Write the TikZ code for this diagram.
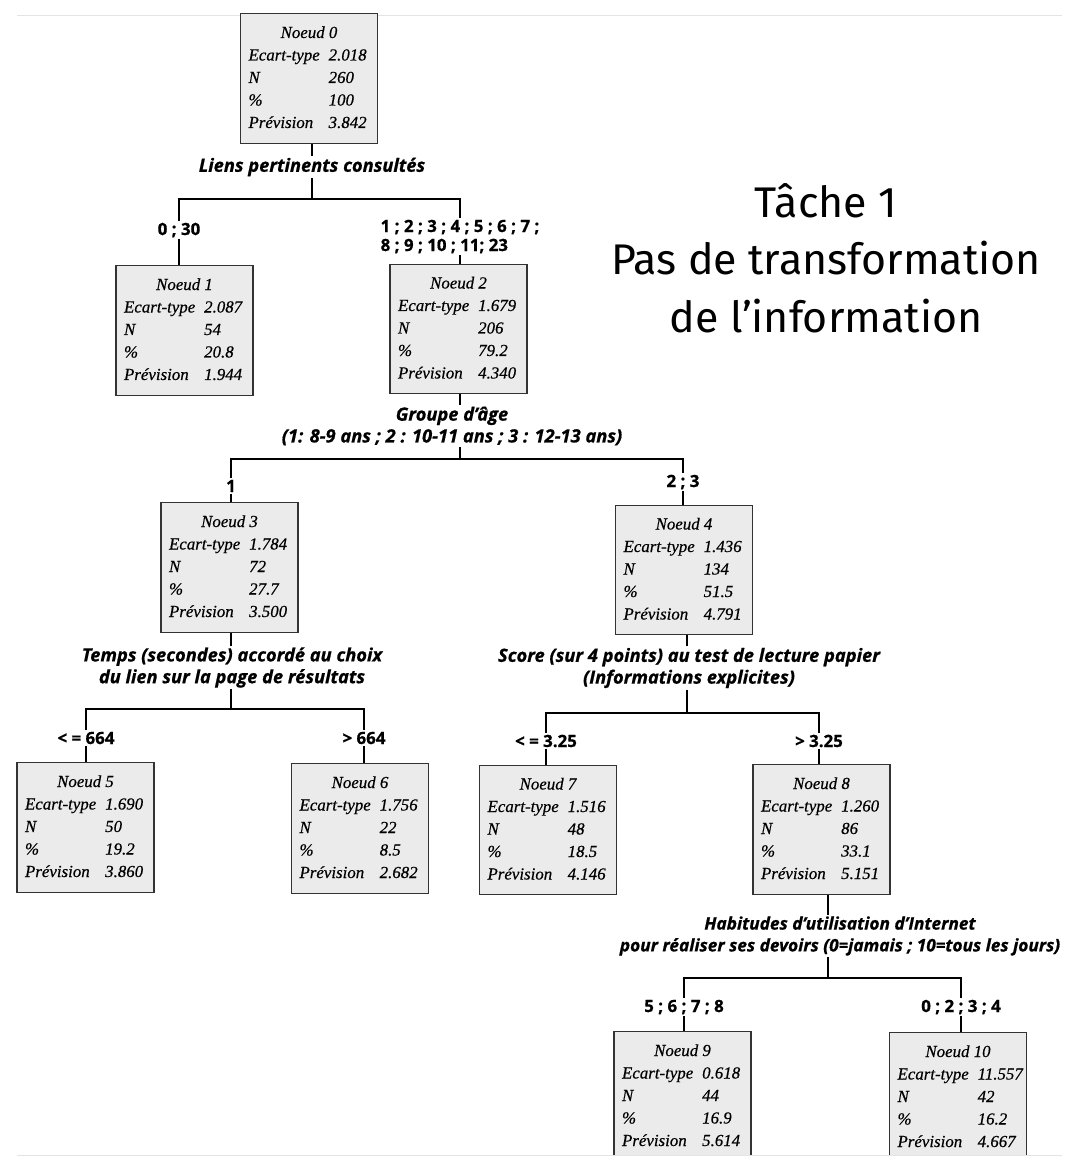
\documentclass[tikz,border=0pt]{standalone}
\usepackage{fontspec}
\usepackage{array}
\usetikzlibrary{positioning,calc}
\newfontfamily\labelfont[BoldFeatures={FakeBold=0.8}, BoldItalicFeatures={FakeBold=0.8}]{Open Sans}
\newfontfamily\titlefont{Fira Sans}
\newfontfamily\boxfont[ItalicFeatures={FakeBold=0.5}]{Liberation Serif}
\definecolor{boxgray}{RGB}{235,235,235}
\definecolor{pagegray}{RGB}{228,228,228}

\newcommand{\stats}[5]{%
  \begin{tabular}{@{}p{57pt}@{}p{29pt}@{}}
    \multicolumn{2}{@{}c@{}}{Noeud #1}\\
    Ecart-type & #2\\
    N & #3\\
    \% & #4\\
    Prévision & #5
  \end{tabular}}

\begin{document}
\begin{tikzpicture}[x=0.025cm, y=-0.025cm,
    noeud/.style={draw=black!80, line width=0.9pt, fill=boxgray, inner xsep=5.7pt, inner ysep=0pt,
      minimum width=97.5pt, minimum height=92pt, font=\boxfont\fontsize{12}{16}\selectfont\itshape},
    split/.style={inner sep=1pt, align=center, font=\labelfont\fontsize{13}{15.5}\selectfont\bfseries\itshape},
    branche/.style={inner sep=1pt, align=left, font=\labelfont\fontsize{12}{13.5}\selectfont\bfseries},
    link/.style={line width=2pt}]
  \useasboundingbox (0,0) rectangle (1069,1168);
  \begin{scope}
    \clip (0,0) rectangle (1069,1154);
    \draw[pagegray, line width=0.6pt] (17,15) -- (1062,15);

    % titre
    \node[font=\titlefont\fontsize{30.5}{41}\selectfont, align=center] (titre) at (826,258)
      {Tâche 1\\Pas de transformation\\de l’information};

    % noeuds
    \node[noeud] (n0) at (309,78.5) {\stats{0}{2.018}{260}{100}{3.842}};
    \node[noeud] (n1) at (184.5,330.5) {\stats{1}{2.087}{54}{20.8}{1.944}};
    \node[noeud] (n2) at (458.5,329) {\stats{2}{1.679}{206}{79.2}{4.340}};
    \node[noeud] (n3) at (229.5,567.5) {\stats{3}{1.784}{72}{27.7}{3.500}};
    \node[noeud] (n4) at (684,570) {\stats{4}{1.436}{134}{51.5}{4.791}};
    \node[noeud] (n5) at (85.5,827.5) {\stats{5}{1.690}{50}{19.2}{3.860}};
    \node[noeud] (n6) at (360,828.5) {\stats{6}{1.756}{22}{8.5}{2.682}};
    \node[noeud] (n7) at (548,830) {\stats{7}{1.516}{48}{18.5}{4.146}};
    \node[noeud] (n8) at (821.5,829.5) {\stats{8}{1.260}{86}{33.1}{5.151}};
    \node[noeud] (n9) at (682.5,1096.5) {\stats{9}{0.618}{44}{16.9}{5.614}};
    \node[noeud] (n10) at (958,1097.5) {\stats{10}{11.557}{42}{16.2}{4.667}};

    % variables de division
    \node[split] (s0) at (312,167) {Liens pertinents consultés};
    \node[split] (s1) at (452,426) {Groupe d’âge\\(1: 8-9 ans ; 2 : 10-11 ans ; 3 : 12-13 ans)};
    \node[split] (s3) at (232,667.5) {Temps (secondes) accordé au choix\\du lien sur la page de résultats};
    \node[split] (s4) at (689,668) {Score (sur 4 points) au test de lecture papier\\(Informations explicites)};
    \node[split, font=\labelfont\fontsize{12.3}{15.5}\selectfont\bfseries\itshape] (s8) at (840,936)
      {Habitudes d’utilisation d’Internet\\pour réaliser ses devoirs (0=jamais ; 10=tous les jours)};

    % modalites
    \node[branche] (b1) at (179,230) {0 ; 30};
    \node[branche] (b2) at (460,236.5) {1 ; 2 ; 3 ; 4 ; 5 ; 6 ; 7 ;\\8 ; 9 ; 10 ; 11; 23};
    \node[branche] (b3) at (231,486) {1};
    \node[branche] (b4) at (683,482) {2 ; 3};
    \node[branche] (b5) at (86,738) {< = 664};
    \node[branche] (b6) at (364,738) {> 664};
    \node[branche] (b7) at (546,741) {< = 3.25};
    \node[branche] (b8) at (819,741) {> 3.25};
    \node[branche] (b9) at (684,1007) {5 ; 6 ; 7 ; 8};
    \node[branche] (b10) at (961,1007) {0 ; 2 ; 3 ; 4};

    \coordinate (j0) at (312,199);
    \coordinate (j1) at (460,459);
    \coordinate (j3) at (231,709);
    \coordinate (j4) at (687,713);
    \coordinate (j8) at (828,978);

    % liens
    \draw[link] (n0.south -| j0) -- (s0.north -| j0);
    \draw[link] (s0.south -| j0) -- (j0);
    \draw[link] (b1.north) |- (j0) -| (b2.north);
    \draw[link] (b1.south) -- (b1.south |- n1.north);
    \draw[link] (b2.south) -- (b2.south |- n2.north);

    \draw[link] (n2.south -| j1) -- (s1.north -| j1);
    \draw[link] (s1.south -| j1) -- (j1);
    \draw[link] (b3.north) |- (j1) -| (b4.north);
    \draw[link] (b3.south) -- (b3.south |- n3.north);
    \draw[link] (b4.south) -- (b4.south |- n4.north);

    \draw[link] (n3.south -| j3) -- (s3.north -| j3);
    \draw[link] (s3.south -| j3) -- (j3);
    \draw[link] (b5.north) |- (j3) -| (b6.north);
    \draw[link] (b5.south) -- (b5.south |- n5.north);
    \draw[link] (b6.south) -- (b6.south |- n6.north);

    \draw[link] (n4.south -| j4) -- (s4.north -| j4);
    \draw[link] (s4.south -| j4) -- (j4);
    \draw[link] (b7.north) |- (j4) -| (b8.north);
    \draw[link] (b7.south) -- (b7.south |- n7.north);
    \draw[link] (b8.south) -- (b8.south |- n8.north);

    \draw[link] (n8.south -| j8) -- (s8.north -| j8);
    \draw[link] (s8.south -| j8) -- (j8);
    \draw[link] (b9.north) |- (j8) -| (b10.north);
    \draw[link] (b9.south) -- (b9.south |- n9.north);
    \draw[link] (b10.south) -- (b10.south |- n10.north);
  \end{scope}
  \draw[pagegray, line width=0.6pt] (17,1155) -- (1062,1155);
\end{tikzpicture}
\end{document}
